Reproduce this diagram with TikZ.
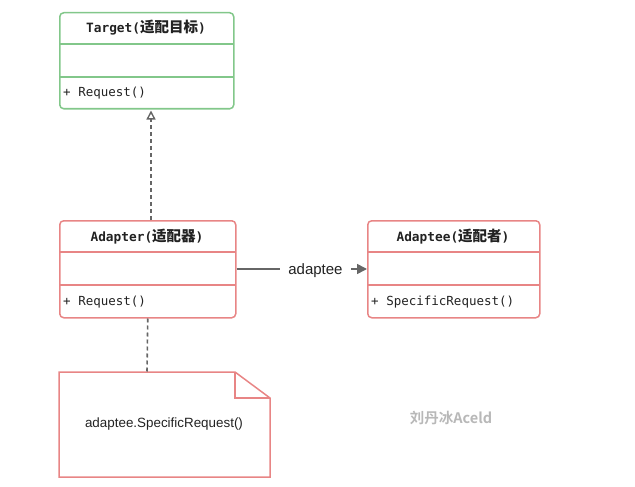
\documentclass[tikz,border=0pt]{standalone}
\usepackage{fontspec}
\setmainfont{Liberation Sans}
\newfontfamily\monof{DejaVu Sans Mono}
\newfontfamily\cjkf{Noto Sans CJK SC}
\newfontfamily\cjkbf{Noto Sans CJK SC Bold}
\usetikzlibrary{arrows.meta}
\definecolor{grn}{HTML}{82C78A}
\definecolor{rd}{HTML}{E88585}
\definecolor{ln}{HTML}{666666}
\definecolor{txt}{HTML}{222222}
\tikzset{
  umlbox/.style={draw=#1, line width=1.5pt, rounded corners=4pt, minimum width=174pt, minimum height=97pt, anchor=north west, inner sep=0pt},
  sepline/.style={draw=#1, line width=1.5pt},
  hdr/.style={font=\monof\bfseries\fontsize{12.8}{14}\selectfont, text=txt, inner sep=0pt},
  member/.style={font=\monof\fontsize{12.5}{14}\selectfont, text=txt, anchor=west, inner sep=0pt},
  depend/.style={draw=ln, line width=1.6pt, dash pattern=on 4pt off 3pt},
  assoc/.style={draw=ln, line width=1.6pt},
}
\newcommand{\cj}[1]{{\cjkf\bfseries\fontsize{14.5}{15}\selectfont #1}}
\begin{document}
\begin{tikzpicture}[x=1pt,y=-1pt]
\useasboundingbox (0,0) rectangle (635,487);
% Target
\node[umlbox=grn, minimum width=174pt, minimum height=96pt] (target) at (59,12) {};
\draw[sepline=grn] (59,44) -- (233,44);
\draw[sepline=grn] (59,77) -- (233,77);
\node[hdr] (targetname) at (146,27.5) {Target(\cj{适配目标})};
\node[member] (targetop) at (63,93.5) {+ Request()};
% Adapter
\node[umlbox=rd, minimum width=176pt] (adapter) at (59,220) {};
\draw[sepline=rd] (59,252) -- (235,252);
\draw[sepline=rd] (59,285) -- (235,285);
\node[hdr] (adaptername) at (147,236.5) {Adapter(\cj{适配器})};
\node[member] (adapterop) at (63,302.5) {+ Request()};
% Adaptee
\node[umlbox=rd, minimum width=172pt] (adaptee) at (367,220) {};
\draw[sepline=rd] (367,252) -- (539,252);
\draw[sepline=rd] (367,285) -- (539,285);
\node[hdr] (adapteename) at (453,236.5) {Adaptee(\cj{适配者})};
\node[member] (adapteeop) at (371,302.5) {+ SpecificRequest()};
% Note
\draw[draw=rd, line width=1.5pt, line join=miter] (59,372) -- (235,372) -- (270,398) -- (270,477) -- (59,477) -- cycle;
\draw[draw=rd, line width=1.5pt] (235,372) -- (235,398) -- (270,398);
\node[font=\fontsize{13.4}{15}\selectfont, text=txt] (note) at (164,424.5) {adaptee.SpecificRequest()};
\coordinate (notetop) at (147,372);
% connectors
\coordinate (rx) at (151,0);
\draw[depend, -{Triangle[open, length=9pt, width=9pt, line width=1.4pt]}, shorten >=1pt] (adapter.north -| rx) -- (target.south -| rx);
\draw[depend] (adapter.south) -- (notetop);
\draw[assoc, -{Triangle[length=10pt, width=10pt]}] (adapter.east |- 0,269) -- node[pos=0.605, fill=white, inner xsep=8pt, inner ysep=2pt, yshift=-1.5pt, font=\fontsize{15}{17}\selectfont, text=txt] (lbl) {adaptee} (adaptee.west |- 0,269);
% watermark
\node[font=\cjkbf\fontsize{14.5}{16}\selectfont, text=black!28] (wm) at (451,418) {刘丹冰Aceld};
\end{tikzpicture}
\end{document}
